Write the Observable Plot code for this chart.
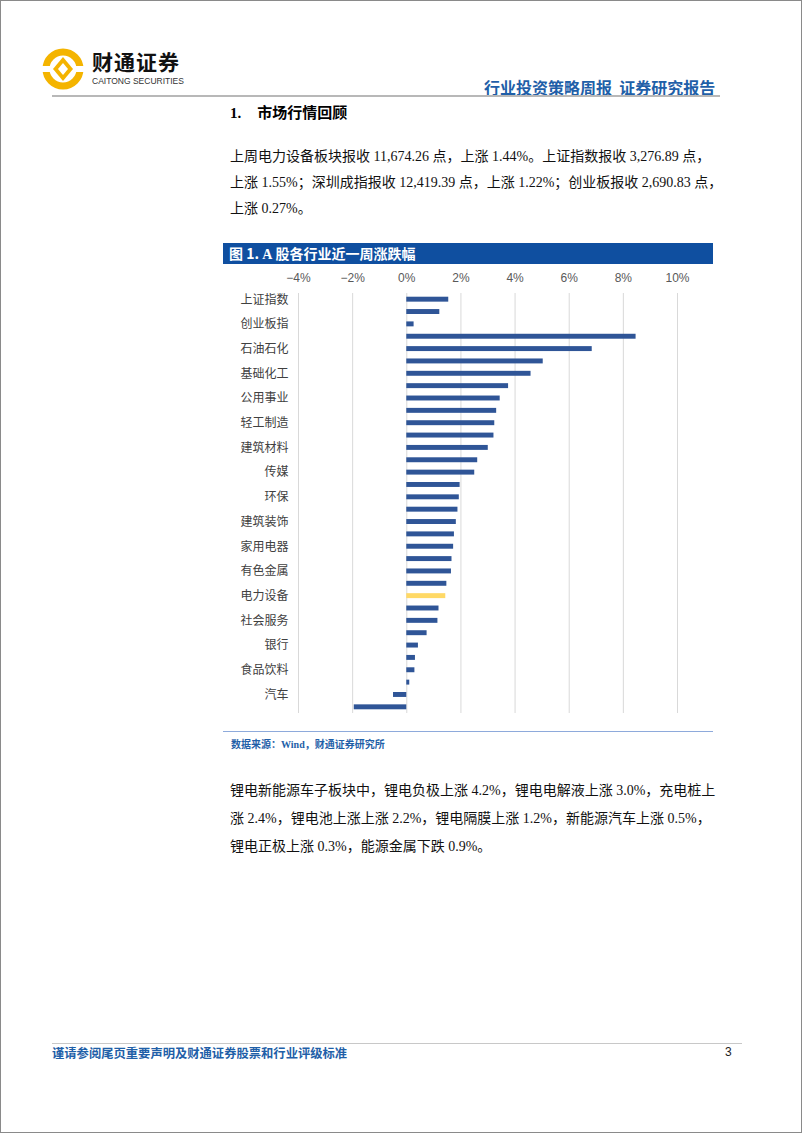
<!DOCTYPE html>
<html>
<head>
<meta charset="utf-8">
<script src="https://cdn.jsdelivr.net/npm/d3@7"></script>
<script src="https://cdn.jsdelivr.net/npm/@observablehq/plot@0.6"></script>
<style>
  html, body { margin: 0; padding: 0; background: #fff; }
  body { width: 802px; height: 1133px; position: relative; overflow: hidden; font-family: "Liberation Serif", "Noto Sans CJK SC", serif; }
  .frame { position: absolute; left: 0; top: 0; width: 800px; height: 1131px; border: 1px solid #8a8a8a; }
  .abs { position: absolute; white-space: nowrap; }
  .cjk { font-family: "Noto Sans CJK SC", sans-serif; }
  .para { font-size: 14px; color: #111; font-family: "Liberation Serif", "Noto Sans CJK SC", serif; }
</style>
</head>
<body>
<div class="frame"></div>

<!-- header -->
<svg class="abs" style="left:40px;top:46px" width="46" height="46" viewBox="0 0 46 46">
  <circle cx="23" cy="23" r="17" fill="none" stroke="#f4b400" stroke-width="7"/>
  <rect x="0" y="20" width="46" height="6" fill="#fff"/>
  <path d="M23 11 L33 23 L23 35 L13 23 Z" fill="#f4b400"/>
  <path d="M23 17 L28 23 L23 29 L18 23 Z" fill="#fff"/>
</svg>
<div class="abs cjk" style="left:92px;top:46px;font-size:21px;font-weight:700;color:#111;letter-spacing:1px">财通证券</div>
<div class="abs" style="left:92px;top:76px;font-size:8.5px;color:#333;font-family:'Liberation Sans',sans-serif">CAITONG SECURITIES</div>
<div class="abs cjk" style="left:484px;top:75px;font-size:16px;font-weight:700;color:#1f5fa8">行业投资策略周报&nbsp;&nbsp;证券研究报告</div>
<div class="abs" style="left:52px;top:95px;width:668px;height:2px;background:#b8b8b8"></div>

<!-- section -->
<div class="abs" style="left:230px;top:101px;font-size:15px;font-weight:700;color:#000"><span style="font-family:'Liberation Serif'">1.</span><span class="cjk" style="margin-left:16px">市场行情回顾</span></div>
<div class="abs para" style="left:230px;top:145px">上周电力设备板块报收 11,674.26 点，上涨 1.44%。上证指数报收 3,276.89 点，</div>
<div class="abs para" style="left:230px;top:171px">上涨 1.55%；深圳成指报收 12,419.39 点，上涨 1.22%；创业板报收 2,690.83 点，</div>
<div class="abs para" style="left:230px;top:197px">上涨 0.27%。</div>

<!-- figure title -->
<div class="abs" style="left:223px;top:243px;width:490px;height:21px;background:#0f4fa0"></div>
<div class="abs cjk" style="left:229px;top:243px;font-size:14px;font-weight:700;color:#fff">图 1. <span style="font-family:'Liberation Serif'">A</span> 股各行业近一周涨跌幅</div>

<div id="chart" class="abs" style="left:223px;top:265px"></div>

<div class="abs" style="left:223px;top:731px;width:490px;height:1px;background:#8eaadb"></div>
<div class="abs cjk" style="left:231px;top:736px;font-size:10px;font-weight:700;color:#1f5fa8">数据来源：<span style="font-family:'Liberation Serif'">Wind</span>，财通证券研究所</div>

<div class="abs para" style="left:230px;top:779px">锂电新能源车子板块中，锂电负极上涨 4.2%，锂电电解液上涨 3.0%，充电桩上</div>
<div class="abs para" style="left:230px;top:807px">涨 2.4%，锂电池上涨上涨 2.2%，锂电隔膜上涨 1.2%，新能源汽车上涨 0.5%，</div>
<div class="abs para" style="left:230px;top:835px">锂电正极上涨 0.3%，能源金属下跌 0.9%。</div>

<!-- footer -->
<div class="abs" style="left:52px;top:1043px;width:690px;height:1px;background:#c8c8c8"></div>
<div class="abs cjk" style="left:52px;top:1044px;font-size:12.3px;font-weight:700;color:#1f5fa8">谨请参阅尾页重要声明及财通证券股票和行业评级标准</div>
<div class="abs" style="left:725px;top:1045px;font-size:12px;color:#222;font-family:'Liberation Sans',sans-serif">3</div>

<script>
// Data
const categories = [
  "上证指数","深证成指","创业板指","煤炭","石油石化","钢铁","基础化工","房地产",
  "公用事业","交通运输","轻工制造","综合","建筑材料","农林牧渔","传媒","纺织服饰",
  "环保","商贸零售","建筑装饰","机械设备","家用电器","非银金融","有色金属","美容护理",
  "电力设备","国防军工","社会服务","医药生物","银行","通信","食品饮料","电子",
  "汽车","计算机"
];
const changes = [
  1.55, 1.22, 0.27, 8.47, 6.85, 5.04, 4.59, 3.76,
  3.45, 3.32, 3.25, 3.22, 3.01, 2.62, 2.51, 1.97,
  1.94, 1.89, 1.83, 1.76, 1.73, 1.67, 1.65, 1.48,
  1.44, 1.19, 1.15, 0.75, 0.43, 0.32, 0.30, 0.11,
  -0.49, -1.94
];
const highlight = "电力设备";
const xTicks = [-4, -2, 0, 2, 4, 6, 8, 10];

const data = categories.map((c, i) => ({name: c, value: changes[i]}));

const chart = Plot.plot({
  width: 490,
  height: 453,
  marginLeft: 75,
  marginRight: 36,
  marginTop: 28,
  marginBottom: 5,
  style: {fontFamily: "'Liberation Sans', 'Noto Sans CJK SC', sans-serif", background: "transparent"},
  x: {domain: [-4, 10], ticks: xTicks, axis: null, label: null},
  y: {domain: categories, paddingInner: 0.6, paddingOuter: 0.3, round: false, axis: null, label: null},
  marks: [
    Plot.gridX(xTicks, {stroke: "#d9d9d9", strokeOpacity: 1, strokeWidth: 1}),
    Plot.axisX({anchor: "top", ticks: xTicks, tickSize: 0, tickPadding: 12, label: null,
      tickFormat: d => (d < 0 ? "\u2212" + Math.abs(d) : d) + "%", fontSize: 12, color: "#595959"}),
    Plot.axisY({anchor: "left", tickSize: 0, tickPadding: 10, fontSize: 12, color: "#404040", label: null,
      tickFormat: d => (categories.indexOf(d) % 2 === 0 ? d : "")}),
    Plot.barX(data, {x: "value", y: "name",
      fill: d => d.name === highlight ? "#ffd966" : "#2f5597"})
  ]
});
document.getElementById("chart").appendChild(chart);
</script>
</body>
</html>
